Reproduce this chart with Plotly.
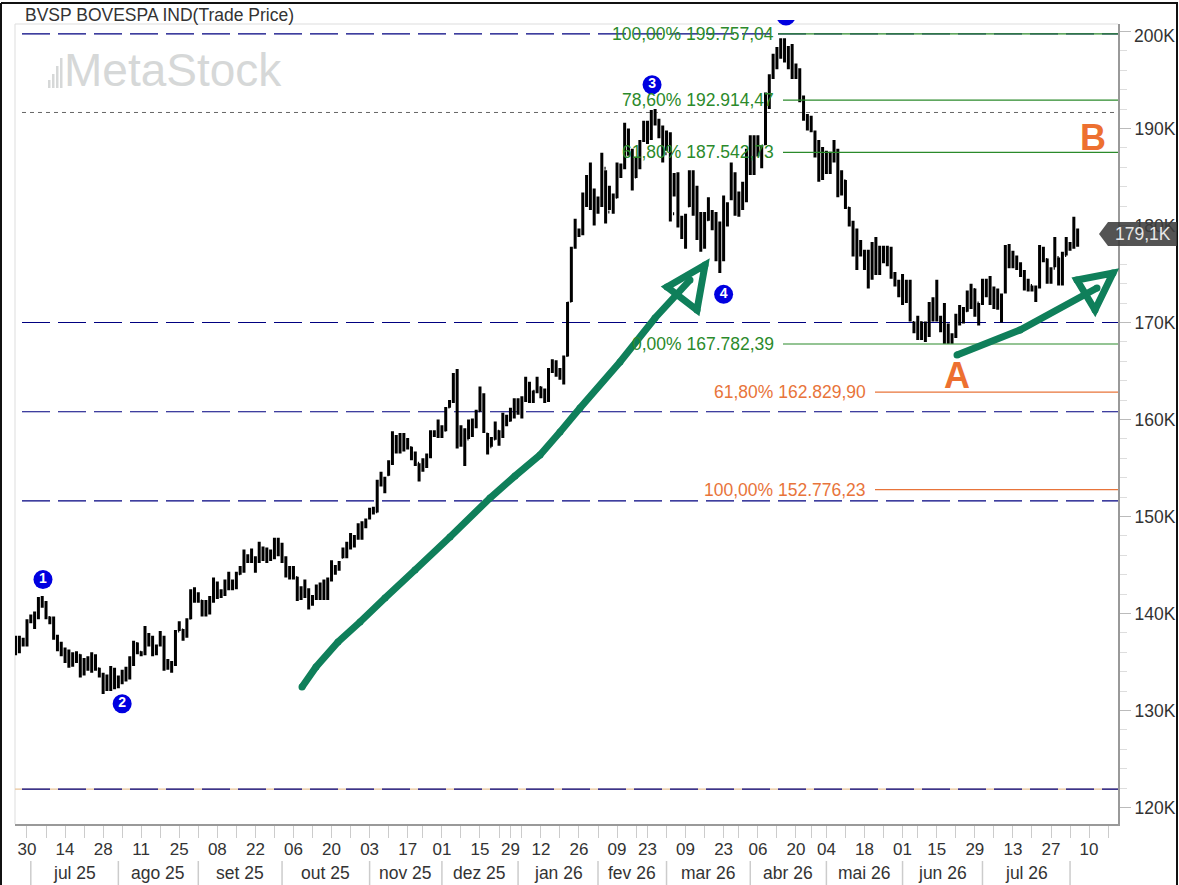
"""
BVSP daily bars with Fibonacci levels, MetaStock style.
"""

import plotly.graph_objects as go

# daily bars, values in thousands of points
highs = [
    137.7, 137.7, 137.5, 139.4, 139.9, 140.2, 141.7, 141.8, 141.3, 139.7,
    139.7, 137.8, 137.1, 136.5, 136.3, 136.0, 136.1, 135.8, 135.4, 135.6,
    136.0, 135.8, 134.4, 133.9, 133.7, 134.6, 134.4, 133.6, 134.2, 134.5,
    135.6, 137.2, 137.0, 136.1, 138.7, 138.0, 137.7, 136.8, 138.2, 137.7,
    135.3, 135.1, 138.3, 139.2, 138.4, 139.5, 142.5, 142.7, 142.2, 141.4,
    141.4, 141.8, 143.7, 143.3, 142.5, 143.5, 144.3, 143.5, 144.3, 144.9,
    146.6, 146.1, 146.7, 145.9, 147.4, 146.9, 146.8, 146.6, 147.8, 147.8,
    147.3, 145.9, 144.9, 144.9, 143.8, 142.8, 143.5, 142.6, 141.9, 143.0,
    143.2, 143.5, 143.7, 145.5, 145.0, 145.4, 146.8, 147.4, 148.3, 148.1,
    149.3, 149.5, 149.8, 150.9, 151.0, 153.8, 154.6, 154.1, 155.8, 158.8,
    158.4, 158.6, 158.6, 158.1, 157.2, 156.7, 155.5, 156.0, 156.5, 158.9,
    158.9, 160.0, 159.4, 161.3, 162.0, 164.8, 165.2, 159.4, 159.1, 160.0,
    160.1, 161.0, 163.4, 162.7, 158.6, 158.2, 159.8, 158.9, 160.7, 160.5,
    161.2, 162.2, 162.2, 162.4, 164.4, 163.9, 163.0, 164.4, 163.4, 163.2,
    165.3, 166.2, 166.1, 165.3, 166.6, 172.1, 177.8, 180.7, 179.7, 183.4,
    185.2, 186.5, 183.8, 183.0, 187.5, 185.7, 184.1, 183.3, 186.5, 186.4,
    190.6, 190.0, 187.9, 187.0, 188.8, 190.8, 190.8, 191.9, 192.0, 191.0,
    190.3, 189.8, 189.6, 185.4, 185.5, 181.0, 181.2, 185.7, 185.7, 184.1,
    181.4, 181.4, 182.9, 181.6, 181.4, 180.4, 183.1, 182.4, 186.5, 185.5,
    183.5, 184.5, 187.9, 189.3, 189.3, 189.3, 188.3, 193.7, 195.6, 197.7,
    198.4, 199.3, 199.3, 198.5, 198.7, 196.7, 196.2, 193.4, 191.5, 191.3,
    189.8, 188.8, 188.1, 187.7, 187.6, 188.8, 187.9, 185.7, 184.7, 181.9,
    180.5, 179.7, 178.5, 177.5, 177.5, 178.3, 178.8, 177.9, 177.9, 177.9,
    177.8, 175.2, 174.4, 175.0, 174.4, 174.4, 170.1, 170.7, 170.1, 170.1,
    172.1, 172.6, 174.4, 170.7, 172.0, 169.9, 168.9, 170.9, 171.8, 171.6,
    173.3, 174.0, 173.5, 172.0, 174.5, 174.5, 174.8, 173.7, 173.5, 173.0,
    178.0, 178.1, 177.4, 176.9, 176.2, 175.4, 174.5, 173.8, 173.8, 178.0,
    177.8, 176.6, 175.7, 178.8, 176.7, 177.3, 178.8, 178.3, 180.9, 179.7,
]
lows = [
    135.7, 135.9, 136.6, 136.6, 139.0, 138.4, 139.4, 140.6, 139.4, 138.9,
    137.3, 136.1, 135.6, 134.9, 134.4, 134.5, 134.9, 133.4, 133.6, 134.1,
    133.9, 134.1, 133.4, 131.7, 132.0, 132.0, 132.2, 132.3, 132.7, 133.0,
    133.2, 134.6, 135.8, 135.6, 135.7, 136.6, 135.6, 135.7, 136.6, 134.1,
    134.2, 133.9, 134.6, 138.2, 137.2, 137.5, 139.4, 141.1, 141.1, 139.7,
    139.7, 139.9, 141.1, 141.5, 141.6, 141.8, 142.4, 142.4, 142.5, 144.0,
    144.2, 145.2, 145.2, 144.2, 145.2, 145.4, 145.2, 145.4, 145.6, 145.9,
    145.2, 143.7, 143.5, 143.5, 141.3, 141.4, 141.6, 140.4, 140.8, 141.4,
    141.4, 141.4, 141.4, 143.3, 144.0, 144.4, 145.7, 145.7, 146.6, 146.8,
    147.6, 147.6, 148.8, 149.7, 150.2, 150.4, 153.1, 152.4, 154.2, 155.3,
    156.5, 156.5, 156.7, 156.9, 155.8, 155.2, 153.6, 154.6, 155.0, 156.0,
    158.2, 158.1, 158.1, 158.8, 161.2, 161.7, 157.0, 157.2, 155.2, 158.0,
    158.2, 159.1, 160.8, 158.6, 156.4, 157.2, 157.9, 157.3, 158.1, 159.3,
    159.8, 160.1, 160.5, 160.1, 161.8, 161.7, 161.7, 162.7, 162.2, 161.7,
    161.8, 164.8, 164.4, 164.1, 163.6, 166.5, 172.1, 177.6, 178.8, 179.0,
    181.9, 181.6, 180.0, 181.2, 181.9, 180.2, 181.6, 181.2, 182.8, 184.9,
    185.8, 187.2, 183.6, 184.9, 185.8, 188.6, 188.4, 188.8, 190.3, 189.0,
    186.5, 187.7, 180.4, 183.0, 179.8, 178.6, 177.6, 181.9, 181.0, 178.5,
    177.3, 177.6, 180.5, 179.5, 176.3, 175.1, 176.3, 179.9, 182.6, 181.0,
    180.9, 181.6, 182.4, 185.2, 185.2, 187.1, 185.9, 188.3, 192.0, 195.1,
    196.1, 197.2, 196.8, 196.1, 195.1, 195.1, 192.7, 190.8, 189.8, 189.6,
    187.0, 184.5, 184.7, 185.3, 185.3, 186.5, 182.9, 183.1, 181.7, 179.9,
    176.8, 175.4, 176.8, 175.4, 173.5, 174.4, 174.9, 174.9, 176.1, 175.8,
    174.5, 173.7, 172.6, 171.8, 172.0, 170.1, 168.9, 168.2, 168.2, 168.0,
    168.5, 170.1, 170.1, 169.0, 167.8, 167.8, 167.8, 168.4, 169.7, 169.9,
    171.1, 171.4, 170.6, 169.7, 171.8, 172.6, 171.8, 171.4, 171.3, 170.0,
    173.0, 175.6, 175.6, 175.4, 174.7, 173.3, 173.2, 173.2, 172.1, 173.5,
    176.2, 174.0, 174.0, 175.7, 173.8, 173.8, 176.9, 177.4, 177.6, 177.8,
]
closes = [
    137.2, 136.9, 136.8, 139.1, 139.6, 139.6, 141.0, 141.2, 139.7, 139.4,
    137.6, 137.0, 135.9, 135.5, 134.8, 135.6, 135.8, 133.8, 134.8, 135.2,
    135.6, 134.4, 133.7, 132.4, 133.2, 134.2, 132.6, 133.2, 133.8, 133.4,
    135.2, 136.9, 136.0, 135.8, 137.9, 137.1, 136.0, 136.6, 137.6, 134.6,
    134.8, 134.7, 138.1, 138.4, 137.8, 139.3, 141.9, 141.6, 141.5, 140.1,
    140.2, 141.4, 143.0, 141.9, 142.1, 143.1, 143.0, 142.8, 144.1, 144.6,
    145.9, 145.6, 145.4, 145.7, 146.7, 145.8, 145.6, 146.4, 147.0, 146.3,
    145.8, 143.9, 144.6, 143.9, 141.7, 142.4, 142.0, 141.0, 141.6, 142.5,
    142.0, 142.7, 143.5, 144.4, 144.6, 145.1, 146.3, 146.9, 147.0, 147.8,
    148.6, 149.2, 149.6, 150.6, 150.5, 153.5, 153.5, 153.9, 155.5, 158.2,
    157.2, 158.2, 157.2, 157.1, 156.3, 155.6, 154.6, 155.5, 156.2, 158.5,
    158.5, 159.0, 158.4, 161.0, 161.8, 164.3, 157.6, 158.8, 157.8, 159.5,
    159.6, 160.8, 162.6, 158.8, 157.0, 157.9, 158.9, 158.3, 160.4, 159.8,
    160.9, 161.5, 160.9, 162.1, 163.0, 162.4, 162.9, 163.2, 162.6, 162.0,
    165.0, 165.8, 165.0, 164.6, 166.3, 172.0, 177.4, 179.0, 179.3, 182.9,
    184.6, 182.4, 182.0, 182.2, 186.2, 181.0, 182.7, 182.4, 186.0, 185.4,
    189.8, 187.6, 185.0, 186.6, 188.4, 190.2, 189.0, 191.2, 191.0, 189.6,
    187.2, 189.2, 181.0, 184.8, 180.5, 179.6, 180.6, 185.0, 182.5, 179.2,
    178.0, 180.2, 181.2, 180.0, 176.8, 176.3, 182.5, 180.2, 185.8, 181.6,
    181.4, 184.2, 187.4, 187.6, 189.0, 187.8, 188.2, 193.2, 195.4, 197.0,
    197.8, 198.8, 197.2, 198.2, 195.8, 196.2, 193.0, 191.2, 190.4, 190.9,
    187.6, 185.2, 187.6, 186.0, 187.2, 187.2, 183.6, 184.8, 182.0, 180.4,
    177.4, 178.0, 177.4, 176.0, 174.2, 177.6, 175.8, 177.4, 176.6, 177.2,
    175.0, 174.2, 173.0, 174.6, 172.6, 170.4, 169.5, 170.3, 168.7, 169.7,
    171.6, 170.6, 170.8, 169.6, 168.2, 168.2, 168.6, 170.6, 170.2, 171.2,
    172.8, 173.6, 172.0, 170.4, 174.0, 173.2, 173.0, 172.4, 171.9, 170.4,
    177.6, 176.6, 176.0, 175.8, 175.0, 173.8, 173.9, 173.5, 173.6, 177.5,
    176.5, 174.4, 175.5, 176.8, 174.4, 177.0, 178.0, 177.8, 178.2, 179.1,
]
opens = [
    136.0, 137.2, 137.2, 136.8, 139.2, 139.8, 139.6, 141.0, 141.1, 139.6,
    139.3, 137.5, 136.9, 135.9, 135.4, 134.8, 135.5, 135.7, 133.8, 134.7,
    135.0, 135.6, 134.3, 133.7, 132.4, 133.1, 134.2, 132.6, 133.2, 133.8,
    133.6, 135.1, 136.9, 136.0, 135.9, 137.8, 137.1, 136.0, 136.8, 137.5,
    134.5, 134.9, 134.8, 138.2, 138.3, 137.8, 139.5, 141.8, 141.6, 141.3,
    140.0, 140.2, 141.5, 142.9, 142.0, 142.2, 143.1, 143.1, 142.8, 144.1,
    144.6, 145.9, 145.6, 145.3, 145.7, 146.6, 145.9, 145.6, 146.3, 147.0,
    146.3, 145.7, 143.9, 144.6, 143.7, 141.8, 142.4, 142.0, 141.1, 141.7,
    142.5, 142.0, 142.7, 143.5, 144.4, 144.7, 145.8, 146.3, 147.7, 147.1,
    147.8, 148.6, 149.2, 149.9, 150.6, 150.5, 153.6, 153.5, 154.3, 155.6,
    158.0, 157.1, 158.2, 157.3, 157.1, 156.3, 155.5, 154.8, 155.4, 156.2,
    158.5, 158.5, 159.0, 158.9, 161.3, 161.9, 164.6, 157.6, 158.8, 158.0,
    159.4, 159.5, 160.9, 162.5, 158.5, 157.2, 158.0, 158.8, 158.4, 160.2,
    159.9, 160.9, 161.6, 160.8, 162.1, 163.0, 162.4, 162.9, 163.3, 162.6,
    162.0, 165.0, 165.8, 165.0, 164.2, 166.6, 172.2, 177.8, 179.3, 179.4,
    183.0, 184.8, 182.4, 181.8, 182.4, 185.9, 181.4, 182.8, 182.9, 186.0,
    186.2, 189.8, 187.4, 185.0, 186.4, 188.8, 190.3, 189.0, 191.3, 190.8,
    189.6, 187.4, 189.0, 181.2, 184.9, 180.4, 179.6, 182.0, 185.0, 182.4,
    179.4, 178.1, 180.6, 181.2, 180.2, 176.7, 176.5, 182.2, 182.8, 185.2,
    181.6, 181.8, 184.2, 187.4, 187.6, 188.8, 187.8, 188.4, 192.8, 195.5,
    197.0, 197.8, 198.8, 197.2, 198.2, 195.4, 196.0, 192.9, 191.2, 190.2,
    189.6, 187.6, 185.0, 187.5, 186.0, 187.2, 187.4, 183.5, 184.6, 181.8,
    180.2, 177.4, 178.0, 177.2, 176.0, 174.6, 177.6, 175.5, 177.4, 176.6,
    177.4, 174.9, 174.1, 173.0, 174.2, 172.8, 170.0, 169.4, 170.0, 168.8,
    169.4, 171.6, 170.6, 170.4, 169.6, 169.5, 168.2, 168.6, 170.6, 170.2,
    171.2, 172.8, 173.4, 172.0, 172.0, 174.0, 173.2, 173.0, 172.4, 172.0,
    173.2, 177.8, 176.6, 176.0, 175.8, 175.0, 173.8, 173.8, 173.5, 173.8,
    177.4, 176.5, 174.4, 175.6, 176.7, 174.2, 176.9, 178.0, 177.8, 178.0,
]

# x axis: bar numbers of the labelled days, the weeks between them, month starts
day_bars = [3, 13, 23, 33, 43, 53, 63, 73, 83, 93, 103, 112, 122, 130, 138,
            148, 158, 166, 176, 186, 195, 205, 213, 223, 233, 242, 252, 262, 272, 282]
day_labels = ["30", "14", "28", "11", "25", "08", "22", "06", "20", "03", "17", "01", "15", "29", "12",
              "26", "09", "23", "09", "23", "06", "20", "04", "18", "01", "15", "29", "13", "27", "10"]
week_bars = [8, 18, 28, 38, 48, 58, 68, 78, 88, 98, 107, 117, 127, 133, 143,
             153, 163, 171, 181, 190, 200, 209, 218, 228, 237, 247, 257, 267, 277, 287]
month_bars = [4, 27, 48, 70, 93, 112, 132, 153, 171, 193, 213, 233, 254, 277]
month_labels = ["jul 25", "ago 25", "set 25", "out 25", "nov 25", "dez 25", "jan 26",
                "fev 26", "mar 26", "abr 26", "mai 26", "jun 26", "jul 26"]

# y axis, the 200K label sits lower than its tick so it is added apart
price_ticks = [120, 130, 140, 150, 160, 170, 180, 190, 200]
price_labels = ["120K", "130K", "140K", "150K", "160K", "170K", "180K", "190K", ""]
y_range = [118.30, 200.77]
x_range = [-0.15, 289.6]

# horizontal levels
dash_levels = [199.76, 170.0, 160.8, 151.6, 121.9]
dotted_level = 191.65
fibo_names = ["100,00% 199.757,04", "78,60% 192.914,47", "61,80% 187.542,73", "0,00% 167.782,39",
              "61,80% 162.829,90", "100,00% 152.776,23"]
fibo_values = [199.757, 192.914, 187.543, 167.782, 162.830, 152.776]
fibo_colors = ["#2b8a2b", "#2b8a2b", "#2b8a2b", "#2b8a2b", "#e8743a", "#e8743a"]
fibo_line_start = [778, 783, 783, 783, 875, 875]
fibo_text_end = [775, 775, 775, 775, 867, 867]

# numbered wave points, wave 5 is cut off by the chart top and drawn apart
wave_bars = [7.2, 28, 167.2, 186]
wave_values = [143.5, 130.7, 194.5, 172.9]
wave_names = ["<b>1</b>", "<b>2</b>", "<b>3</b>", "<b>4</b>"]

# hand drawn arrows, in page pixels
long_arrow = [(302, 687), (316, 667), (338, 642), (360, 622), (385, 598), (415, 570), (450, 537),
              (490, 498), (515, 476), (540, 455), (560, 432), (580, 408), (620, 362), (655, 318), (690, 280)]
long_head = [(667, 287), (705, 265), (697, 310)]
short_arrow = [(957, 355), (1020, 330), (1097, 288)]
short_head = [(1077, 280), (1113, 273), (1095, 310)]

WIDTH, HEIGHT = 1179, 885
LEFT, RIGHT, TOP, BOTTOM = 15, 1118, 24, 824
FONT = "Liberation Sans"
ARROW_GREEN = "#0f7f5a"
WAVE_BLUE = "#0000e0"
ORANGE = "#ed7030"
TEXT_GREY = "#333333"


def px(x):
    return (x - LEFT) / (RIGHT - LEFT)


def py(y):
    return (BOTTOM - y) / (BOTTOM - TOP)


def path_from(points, close=False):
    parts = [f"{'M' if i == 0 else 'L'} {px(x):.5f} {py(y):.5f}" for i, (x, y) in enumerate(points)]
    return " ".join(parts) + (" Z" if close else "")


def page_text(fig, x, y, text, size, color, xanchor="center"):
    fig.add_annotation(xref="paper", yref="paper", x=px(x), y=py(y), text=text, showarrow=False,
                       xanchor=xanchor, yanchor="middle", borderpad=0,
                       font=dict(family=FONT, size=size, color=color))


def page_circle(fig, x, y, radius, color):
    fig.add_shape(type="circle", xref="paper", yref="paper",
                  x0=px(x - radius), x1=px(x + radius), y0=py(y + radius), y1=py(y - radius),
                  fillcolor=color, line=dict(width=0), layer="above")


bars = list(range(len(closes)))

fig = go.Figure()

fig.add_trace(go.Ohlc(
    x=bars,
    open=opens,
    high=highs,
    low=lows,
    close=closes,
    increasing=dict(line=dict(color="black", width=3)),
    decreasing=dict(line=dict(color="black", width=3)),
    tickwidth=0.3,
    hoverinfo="skip",
))

fig.add_trace(go.Scatter(
    x=wave_bars,
    y=wave_values,
    mode="markers+text",
    text=wave_names,
    textposition="middle center",
    textfont=dict(family=FONT, size=14, color="white"),
    marker=dict(color=WAVE_BLUE, size=19),
    cliponaxis=False,
    hoverinfo="skip",
))

# frame of the plot area
for x0, y0, x1, y1 in [(LEFT, TOP, RIGHT, TOP), (LEFT, TOP, LEFT, BOTTOM)]:
    fig.add_shape(type="line", xref="paper", yref="paper", x0=px(x0), y0=py(y0), x1=px(x1), y1=py(y1),
                  line=dict(color="#dddddd", width=1), layer="below")

# outer black border
for x0, y0, x1, y1 in [(1, 3, 1178, 3), (1, 3, 1, 885), (1177, 3, 1177, 885)]:
    fig.add_shape(type="line", xref="paper", yref="paper", x0=px(x0), y0=py(y0), x1=px(x1), y1=py(y1),
                  line=dict(color="#111111", width=2), layer="above")

# dashed levels, the lowest one shows a tan line in its gaps
fig.add_shape(type="line", xref="paper", x0=px(15), x1=1, y0=dash_levels[-1], y1=dash_levels[-1],
              line=dict(color="#e8c49a", width=1.2), layer="below")
for level in dash_levels:
    fig.add_shape(type="line", xref="paper", x0=px(22), x1=1, y0=level, y1=level,
                  line=dict(color="#000080", width=1.2, dash="28px,8px"), layer="below")
fig.add_shape(type="line", xref="paper", x0=px(22), x1=1, y0=dotted_level, y1=dotted_level,
              line=dict(color="#666666", width=1, dash="4px,4px"), layer="below")

# fibonacci levels
for name, value, color, start, end in zip(fibo_names, fibo_values, fibo_colors, fibo_line_start, fibo_text_end):
    fig.add_shape(type="line", xref="paper", x0=px(start), x1=1, y0=value, y1=value,
                  line=dict(color=color, width=1.2), layer="above")
    fig.add_annotation(xref="paper", x=px(end), y=value, text=name, showarrow=False, xanchor="right",
                       yanchor="middle", borderpad=0, font=dict(family=FONT, size=17.5, color=color))

# wave 5, with the part above the chart covered
page_circle(fig, 786, 16, 9.5, WAVE_BLUE)
fig.add_shape(type="rect", xref="paper", yref="paper", x0=px(770), x1=px(800), y0=py(4), y1=py(20),
              fillcolor="white", line=dict(width=0), layer="above")

# arrows, with dots for the round pen ends and corners
for shaft, head in [(long_arrow, long_head), (short_arrow, short_head)]:
    fig.add_shape(type="path", xref="paper", yref="paper", path=path_from(shaft),
                  line=dict(color=ARROW_GREEN, width=7), layer="above")
    fig.add_shape(type="path", xref="paper", yref="paper", path=path_from(head, close=True),
                  line=dict(color=ARROW_GREEN, width=7), layer="above")
    for x, y in shaft + head:
        page_circle(fig, x, y, 3.5, ARROW_GREEN)

# month row
for bar in month_bars:
    fig.add_shape(type="line", yref="paper", x0=bar, x1=bar, y0=py(861), y1=py(885),
                  line=dict(color="#cccccc", width=1.5))
for label, start, stop in zip(month_labels, month_bars[:-1], month_bars[1:]):
    fig.add_annotation(yref="paper", x=(start + stop) / 2, y=py(873), text=label, showarrow=False,
                       xanchor="center", yanchor="middle", borderpad=0,
                       font=dict(family=FONT, size=17.5, color=TEXT_GREY))

# watermark
for x0, y0 in [(48, 80), (52, 74), (56, 66), (60, 58)]:
    fig.add_shape(type="rect", xref="paper", yref="paper", x0=px(x0), x1=px(x0 + 2.5), y0=py(88), y1=py(y0),
                  fillcolor="#d6d8d8", line=dict(width=0), layer="below")
page_text(fig, 63, 70, "MetaStock", 46, "#d6d8d8", xanchor="left")

# title, A / B marks, 200K label
page_text(fig, 24, 15, "BVSP BOVESPA IND(Trade Price)", 17.5, TEXT_GREY, xanchor="left")
page_text(fig, 957, 375, "<b>A</b>", 36, ORANGE)
page_text(fig, 1093, 138, "<b>B</b>", 36, ORANGE)
page_text(fig, 1133, 36, "200K", 17.5, TEXT_GREY, xanchor="left")

# last price tag
fig.add_shape(type="path", xref="paper", yref="paper",
              path=path_from([(1099, 234), (1108, 222), (1177, 222), (1177, 246), (1108, 246)], close=True),
              fillcolor="rgba(60,60,60,0.88)", line=dict(width=0), layer="above")
page_text(fig, 1143, 234, "179,1K", 17.5, "#e8e8e8")

fig.update_layout(
    width=WIDTH,
    height=HEIGHT,
    margin=dict(l=LEFT, r=WIDTH - RIGHT, t=TOP, b=HEIGHT - BOTTOM, pad=0, autoexpand=False),
    paper_bgcolor="white",
    plot_bgcolor="white",
    showlegend=False,
    font=dict(family=FONT),
    xaxis=dict(
        range=x_range,
        rangeslider=dict(visible=False),
        automargin=False,
        showgrid=False,
        zeroline=False,
        showline=True,
        linecolor="#999999",
        linewidth=2,
        tickmode="array",
        tickvals=day_bars,
        ticktext=day_labels,
        ticks="outside",
        ticklen=12,
        tickcolor="#cccccc",
        ticklabelstandoff=-3,
        tickfont=dict(family=FONT, size=17, color=TEXT_GREY),
        minor=dict(tickmode="array", tickvals=week_bars, ticks="outside", ticklen=12, tickcolor="#cccccc"),
    ),
    yaxis=dict(
        range=y_range,
        side="right",
        automargin=False,
        showgrid=False,
        zeroline=False,
        showline=True,
        linecolor="#999999",
        linewidth=2,
        tickmode="array",
        tickvals=price_ticks,
        ticktext=price_labels,
        ticks="outside",
        ticklen=11,
        tickcolor="#bbbbbb",
        tickfont=dict(family=FONT, size=17.5, color=TEXT_GREY),
        minor=dict(dtick=2, ticks="outside", ticklen=7, tickcolor="#dddddd"),
    ),
)

fig.write_html("out.html", config={"displayModeBar": False}, post_script="document.body.style.margin='0';")
